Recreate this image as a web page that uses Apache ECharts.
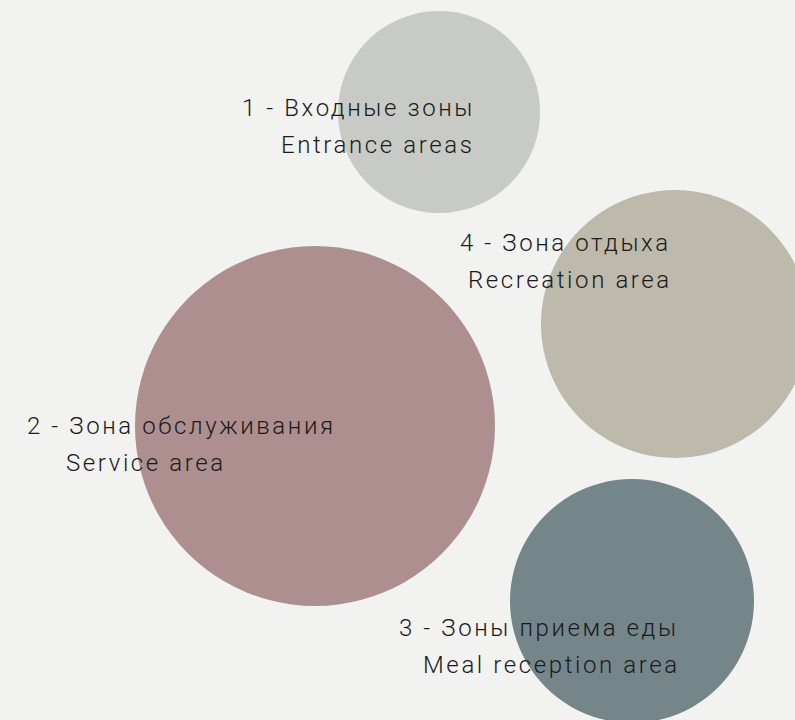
<!DOCTYPE html>
<html>
<head>
<meta charset="utf-8">
<script src="https://cdn.jsdelivr.net/npm/echarts@6/dist/echarts.min.js"></script>
<style>
  html, body { margin: 0; padding: 0; background: #f2f2f1; }
  #chart { width: 795px; height: 720px; }
  #chart text { letter-spacing: 2.6px; }
</style>
</head>
<body>
<div id="chart"></div>
<script>
// zones: name in russian / english, bubble centre and radius
var zoneRu = ['1 - Входные зоны', '2 - Зона обслуживания', '3 - Зоны приема еды', '4 - Зона отдыха'];
var zoneEn = ['Entrance areas', 'Service area', 'Meal reception area', 'Recreation area'];
var zoneX = [439, 315, 632, 675];
var zoneY = [112, 426, 601, 324];
var zoneR = [101, 180, 122, 134];

var colors = ['#c8cbc5', '#ad8f8f', '#75868a', '#bdb9ab'];
// label block placement relative to bubble centre, and indent of the english line
var labelOffset = [[-197, -23], [-288, -19], [-233, 8], [-215, -100]];
var secondIndent = [39, 39, 24, 8];

var chart = echarts.init(document.getElementById('chart'), null, { renderer: 'svg' });

var points = [];
for (var i = 0; i < zoneX.length; i++) {
  points.push({
    name: zoneEn[i],
    value: [zoneX[i], zoneY[i], zoneR[i]],
    itemStyle: { color: colors[i] },
    label: {
      offset: labelOffset[i],
      rich: {
        a: {},
        b: { padding: [0, 0, 0, secondIndent[i]] }
      }
    }
  });
}

var option = {
  backgroundColor: '#f2f2f1',
  animation: false,
  grid: { left: 0, right: 0, top: 0, bottom: 0 },
  xAxis: { type: 'value', min: 0, max: 795, show: false },
  yAxis: { type: 'value', min: 0, max: 720, inverse: true, show: false },
  series: [{
    type: 'scatter',
    data: points,
    symbolSize: function (v) { return v[2] * 2; },
    itemStyle: { opacity: 1 },
    label: {
      show: true,
      position: 'inside',
      align: 'left',
      verticalAlign: 'top',
      color: '#1a1a1a',
      fontFamily: 'Roboto',
      fontSize: 24,
      fontWeight: 300,
      lineHeight: 37,
      formatter: function (p) {
        return '{a|' + zoneRu[p.dataIndex] + '}\n{b|' + zoneEn[p.dataIndex] + '}';
      }
    }
  }]
};

chart.setOption(option);
</script>
</body>
</html>
